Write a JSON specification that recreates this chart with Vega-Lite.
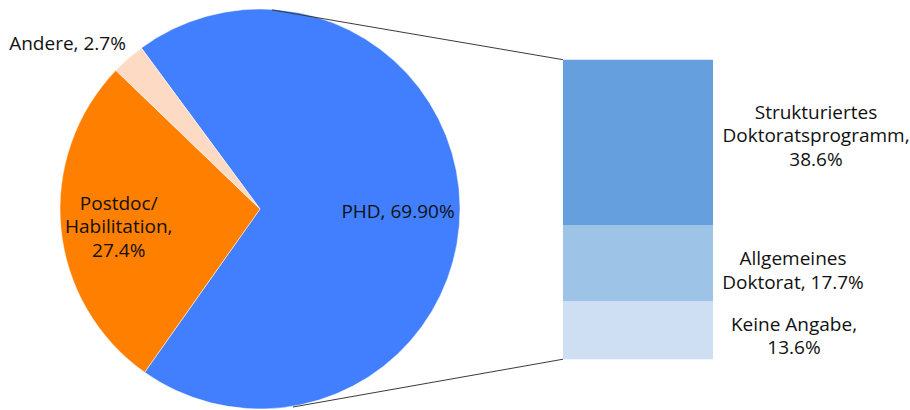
{
  "$schema": "https://vega.github.io/schema/vega-lite/v6.json",
  "width": 910,
  "height": 410,
  "padding": 0,
  "autosize": {"type": "fit", "contains": "padding"},
  "background": "white",
  "config": {"view": {"stroke": null}, "text": {"font": "Open Sans", "fontSize": 19, "color": "#111111", "lineHeight": 23.5}},
  "datasets": {
    "pie": [
      {"k": 1, "cat": "PHD", "value": 69.9, "label": "PHD, 69.90%"},
      {"k": 2, "cat": "Postdoc/Habilitation", "value": 27.4, "label": ["Postdoc/", "Habilitation,", "27.4%"]},
      {"k": 3, "cat": "Andere", "value": 2.7, "label": "Andere, 2.7%"}
    ],
    "bar": [
      {"k": 1, "cat": "Keine Angabe", "value": 13.6, "label": ["Keine Angabe,", "13.6%"]},
      {"k": 2, "cat": "Allgemeines Doktorat", "value": 17.7, "label": ["Allgemeines", "Doktorat, 17.7%"]},
      {"k": 3, "cat": "Strukturiertes Doktoratsprogramm", "value": 38.6, "label": ["Strukturiertes", "Doktoratsprogramm,", "38.6%"]}
    ]
  },
  "encoding": {},
  "layer": [
    {
      "data": {"name": "pie"},
      "mark": {"type": "arc", "outerRadius": 200, "stroke": "white", "strokeWidth": 0.5},
      "encoding": {
        "x": {"datum": 260, "type": "quantitative", "scale": {"domain": [0, 910], "nice": false, "zero": false}, "axis": null},
        "y": {"datum": 35.06, "type": "quantitative", "scale": {"domain": [-11.38, 83.83], "nice": false, "zero": false}, "axis": null},
        "theta": {"field": "value", "type": "quantitative", "stack": true, "scale": {"range": [-0.6353, 5.6479]}},
        "order": {"field": "k"},
        "color": {"field": "cat", "type": "nominal", "legend": null, "scale": {"domain": ["PHD", "Postdoc/Habilitation", "Andere", "Keine Angabe", "Allgemeines Doktorat", "Strukturiertes Doktoratsprogramm"], "range": ["#417FFF", "#FF7F00", "#FCDAC3", "#CEDEF3", "#9DC3E6", "#659FDD"]}}
      }
    },
    {
      "data": {"name": "pie"},
      "mark": {"type": "text", "radius": 138, "align": "center", "baseline": "middle", "dy": 4},
      "encoding": {
        "x": {"datum": 260, "type": "quantitative"},
        "y": {"datum": 35.06, "type": "quantitative"},
        "theta": {"field": "value", "type": "quantitative", "stack": true},
        "order": {"field": "k"},
        "text": {"condition": {"test": "datum.k == 1", "field": "label"}, "value": ""}
      }
    },
    {
      "data": {"name": "pie"},
      "mark": {"type": "text", "radius": 157, "align": "center", "baseline": "middle", "dx": 15, "dy": -20},
      "encoding": {
        "x": {"datum": 260, "type": "quantitative"},
        "y": {"datum": 35.06, "type": "quantitative"},
        "theta": {"field": "value", "type": "quantitative", "stack": true},
        "order": {"field": "k"},
        "text": {"condition": {"test": "datum.k == 2", "field": "label"}, "value": ""}
      }
    },
    {
      "data": {"name": "pie"},
      "mark": {"type": "text", "radius": 214, "align": "right", "baseline": "middle", "dx": 7, "dy": -4},
      "encoding": {
        "x": {"datum": 260, "type": "quantitative"},
        "y": {"datum": 35.06, "type": "quantitative"},
        "theta": {"field": "value", "type": "quantitative", "stack": true},
        "order": {"field": "k"},
        "text": {"condition": {"test": "datum.k == 3", "field": "label"}, "value": ""}
      }
    },
    {
      "data": {"name": "bar"},
      "transform": [
        {"stack": "value", "groupby": [], "sort": [{"field": "k"}], "as": ["v0", "v1"]}
      ],
      "mark": {"type": "rect"},
      "encoding": {
        "x": {"datum": 563, "type": "quantitative"},
        "x2": {"datum": 713},
        "y": {"field": "v0", "type": "quantitative"},
        "y2": {"field": "v1"},
        "color": {"field": "cat", "type": "nominal"}
      }
    },
    {
      "data": {"name": "bar"},
      "transform": [
        {"stack": "value", "groupby": [], "sort": [{"field": "k"}], "as": ["v0", "v1"]},
        {"filter": "datum.k == 1"}
      ],
      "mark": {"type": "text", "align": "center", "baseline": "middle", "dy": 24},
      "encoding": {
        "x": {"datum": 794, "type": "quantitative"},
        "y": {"field": "v1", "type": "quantitative"},
        "text": {"field": "label"}
      }
    },
    {
      "data": {"name": "bar"},
      "transform": [
        {"stack": "value", "groupby": [], "sort": [{"field": "k"}], "as": ["v0", "v1"]},
        {"filter": "datum.k == 2"}
      ],
      "mark": {"type": "text", "align": "center", "baseline": "middle", "dy": 34},
      "encoding": {
        "x": {"datum": 793, "type": "quantitative"},
        "y": {"field": "v1", "type": "quantitative"},
        "text": {"field": "label"}
      }
    },
    {
      "data": {"name": "bar"},
      "transform": [
        {"stack": "value", "groupby": [], "sort": [{"field": "k"}], "as": ["v0", "v1"]},
        {"filter": "datum.k == 3"}
      ],
      "mark": {"type": "text", "align": "center", "baseline": "middle", "dy": 53},
      "encoding": {
        "x": {"datum": 816, "type": "quantitative"},
        "y": {"field": "v1", "type": "quantitative"},
        "text": {"field": "label"}
      }
    },
    {
      "data": {"values": [{}]},
      "mark": {"type": "rule", "color": "#3a3a3a", "strokeWidth": 1},
      "encoding": {
        "x": {"datum": 272, "type": "quantitative"},
        "y": {"datum": 81.51, "type": "quantitative"},
        "x2": {"datum": 563},
        "y2": {"datum": 69.9}
      }
    },
    {
      "data": {"values": [{}]},
      "mark": {"type": "rule", "color": "#3a3a3a", "strokeWidth": 1},
      "encoding": {
        "x": {"datum": 293, "type": "quantitative"},
        "y": {"datum": -11.15, "type": "quantitative"},
        "x2": {"datum": 563},
        "y2": {"datum": 0}
      }
    }
  ]
}
